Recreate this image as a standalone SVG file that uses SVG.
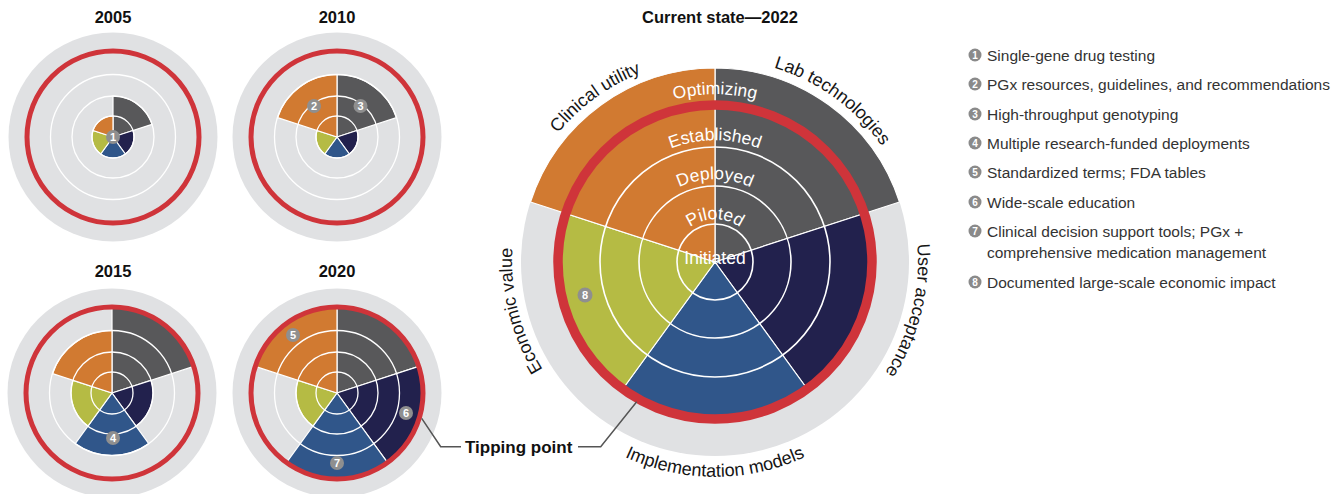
<svg xmlns="http://www.w3.org/2000/svg" xmlns:xlink="http://www.w3.org/1999/xlink" width="1343" height="494" viewBox="0 0 1343 494">
  <style>
    .bg { fill: #e0e1e3; }
    .lab { fill: #58585a; }
    .usr { fill: #22214d; }
    .imp { fill: #30568a; }
    .eco { fill: #b5bb44; }
    .cli { fill: #d17a31; }
    .wedge path { stroke: #ffffff; stroke-width: 1.2; stroke-linejoin: round; }
    .ring { fill: none; stroke: #ffffff; }
    .ring-s { stroke-width: 1.3; }
    .ring-b { stroke-width: 1.6; }
    .red { fill: none; stroke: #cf343a; }
    .title { font-family: "Liberation Sans", Arial, sans-serif; font-weight: bold; font-size: 16.5px; fill: #111111; text-anchor: middle; }
    .axis { font-family: "Liberation Sans", Arial, sans-serif; font-size: 18px; fill: #151515; }
    .level { font-family: "Liberation Sans", Arial, sans-serif; font-size: 17.5px; fill: #ffffff; }
    .badge { fill: #8f8f8f; }
    .badge-n { font-family: "Liberation Sans", Arial, sans-serif; font-weight: bold; font-size: 11px; fill: #ffffff; text-anchor: middle; }
    .leg { font-family: "Liberation Sans", Arial, sans-serif; font-size: 15.5px; fill: #333333; }
    .leg-b { fill: #8a8a8a; }
    .leg-n { font-family: "Liberation Sans", Arial, sans-serif; font-weight: bold; font-size: 10px; fill: #ffffff; text-anchor: middle; }
    .leader { fill: none; stroke: #555555; stroke-width: 1.5; }
    .tip { font-family: "Liberation Sans", Arial, sans-serif; font-weight: bold; font-size: 17px; fill: #111111; }
  </style>
  <defs>
    <!-- arcs for the axis names (clockwise, text sits outside) -->
    <path id="arc-cli" d="M532.5,351.0 A203,203 0 0,1 856.0,116.0"/>
    <path id="arc-lab" d="M574.0,116.0 A203,203 0 0,1 897.5,351.0"/>
    <path id="arc-usr" d="M797.6,76.6 A203,203 0 0,1 700.8,464.5"/>
    <path id="arc-eco" d="M729.2,464.5 A203,203 0 0,1 632.4,76.6"/>
    <!-- counter-clockwise arc along the bottom -->
    <path id="arc-imp" d="M503.3,299.3 A215,215 0 0,0 926.7,299.3"/>
    <!-- arcs for the maturity level names -->
    <path id="arc-opt" d="M549.6,232.8 A168,168 0 0,1 880.4,232.8"/>
    <path id="arc-est" d="M594.9,240.8 A122,122 0 0,1 835.1,240.8"/>
    <path id="arc-dep" d="M633.3,247.6 A83,83 0 0,1 796.7,247.6"/>
    <path id="arc-pil" d="M672.7,254.5 A43,43 0 0,1 757.3,254.5"/>
  </defs>

  <!-- 2005 -->
  <g id="chart-2005">
    <text class="title" x="113" y="23">2005</text>
    <g transform="translate(113,137)">
      <circle class="bg" r="104.5"/>
      <g class="wedge">
        <path class="lab" d="M0,0 L0,-41 A41,41 0 0 1 38.99,-12.67 Z"/>
        <path class="usr" d="M0,0 L19.97,-6.49 A21,21 0 0 1 12.34,16.99 Z"/>
        <path class="imp" d="M0,0 L12.34,16.99 A21,21 0 0 1 -12.34,16.99 Z"/>
        <path class="eco" d="M0,0 L-12.34,16.99 A21,21 0 0 1 -19.97,-6.49 Z"/>
        <path class="cli" d="M0,0 L-19.97,-6.49 A21,21 0 0 1 0,-21 Z"/>
      </g>
      <circle class="ring ring-s" r="21"/>
      <circle class="ring ring-s" r="41"/>
      <circle class="ring ring-s" r="62.5"/>
      <circle class="red" r="86" stroke-width="5"/>
      <circle class="badge" r="7"/>
      <text class="badge-n" y="4">1</text>
    </g>
  </g>

  <!-- 2010 -->
  <g id="chart-2010">
    <text class="title" x="337" y="23">2010</text>
    <g transform="translate(337,137)">
      <circle class="bg" r="104.5"/>
      <g class="wedge">
        <path class="lab" d="M0,0 L0,-62.5 A62.5,62.5 0 0 1 59.44,-19.31 Z"/>
        <path class="usr" d="M0,0 L19.97,-6.49 A21,21 0 0 1 12.34,16.99 Z"/>
        <path class="imp" d="M0,0 L12.34,16.99 A21,21 0 0 1 -12.34,16.99 Z"/>
        <path class="eco" d="M0,0 L-12.34,16.99 A21,21 0 0 1 -19.97,-6.49 Z"/>
        <path class="cli" d="M0,0 L-59.44,-19.31 A62.5,62.5 0 0 1 0,-62.5 Z"/>
      </g>
      <circle class="ring ring-s" r="21"/>
      <circle class="ring ring-s" r="41"/>
      <circle class="ring ring-s" r="62.5"/>
      <circle class="red" r="86" stroke-width="5"/>
      <circle class="badge" cx="-23" cy="-31" r="7"/>
      <text class="badge-n" x="-23" y="-27">2</text>
      <circle class="badge" cx="23.5" cy="-31" r="7"/>
      <text class="badge-n" x="23.5" y="-27">3</text>
    </g>
  </g>

  <!-- 2015 -->
  <g id="chart-2015">
    <text class="title" x="113" y="277">2015</text>
    <g transform="translate(112,393)">
      <circle class="bg" r="104.5"/>
      <g class="wedge">
        <path class="lab" d="M0,0 L0,-86 A86,86 0 0 1 81.79,-26.58 Z"/>
        <path class="usr" d="M0,0 L38.99,-12.67 A41,41 0 0 1 24.10,33.17 Z"/>
        <path class="imp" d="M0,0 L36.74,50.56 A62.5,62.5 0 0 1 -36.74,50.56 Z"/>
        <path class="eco" d="M0,0 L-24.10,33.17 A41,41 0 0 1 -38.99,-12.67 Z"/>
        <path class="cli" d="M0,0 L-59.44,-19.31 A62.5,62.5 0 0 1 0,-62.5 Z"/>
      </g>
      <circle class="ring ring-s" r="21"/>
      <circle class="ring ring-s" r="41"/>
      <circle class="ring ring-s" r="62.5"/>
      <circle class="red" r="86" stroke-width="5"/>
      <circle class="badge" cx="1" cy="45" r="7"/>
      <text class="badge-n" x="1" y="49">4</text>
    </g>
  </g>

  <!-- 2020 -->
  <g id="chart-2020">
    <text class="title" x="337" y="277">2020</text>
    <g transform="translate(337,393)">
      <circle class="bg" r="104.5"/>
      <g class="wedge">
        <path class="lab" d="M0,0 L0,-86 A86,86 0 0 1 81.79,-26.58 Z"/>
        <path class="usr" d="M0,0 L81.79,-26.58 A86,86 0 0 1 50.55,69.58 Z"/>
        <path class="imp" d="M0,0 L50.55,69.58 A86,86 0 0 1 -50.55,69.58 Z"/>
        <path class="eco" d="M0,0 L-24.10,33.17 A41,41 0 0 1 -38.99,-12.67 Z"/>
        <path class="cli" d="M0,0 L-81.79,-26.58 A86,86 0 0 1 0,-86 Z"/>
      </g>
      <circle class="ring ring-s" r="21"/>
      <circle class="ring ring-s" r="41"/>
      <circle class="ring ring-s" r="62.5"/>
      <circle class="red" r="86" stroke-width="5"/>
      <circle class="badge" cx="-44" cy="-58" r="7"/>
      <text class="badge-n" x="-44" y="-54">5</text>
      <circle class="badge" cx="69" cy="20" r="7"/>
      <text class="badge-n" x="69" y="24">6</text>
      <circle class="badge" cx="0" cy="70" r="7"/>
      <text class="badge-n" x="0" y="74">7</text>
    </g>
  </g>

  <!-- current state 2022 -->
  <g id="chart-2022">
    <text class="title" x="720" y="23" font-size="17">Current state—2022</text>
    <g transform="translate(715,262)">
      <circle class="bg" r="194"/>
      <g class="wedge">
        <path class="lab" d="M0,0 L0,-194 A194,194 0 0 1 184.51,-59.95 Z"/>
        <path class="usr" d="M0,0 L149.32,-48.52 A157,157 0 0 1 92.28,127.02 Z"/>
        <path class="imp" d="M0,0 L92.28,127.02 A157,157 0 0 1 -92.28,127.02 Z"/>
        <path class="eco" d="M0,0 L-92.28,127.02 A157,157 0 0 1 -149.32,-48.52 Z"/>
        <path class="cli" d="M0,0 L-184.51,-59.95 A194,194 0 0 1 0,-194 Z"/>
      </g>
      <circle class="ring ring-b" r="38"/>
      <circle class="ring ring-b" r="76"/>
      <circle class="ring ring-b" r="115"/>
      <circle class="red" r="157" stroke-width="9.5"/>
      <circle class="badge" cx="-130" cy="33" r="7.5"/>
      <text class="badge-n" x="-130" y="37">8</text>
    </g>
    <!-- maturity levels -->
    <text class="level" text-anchor="middle"><textPath href="#arc-opt" xlink:href="#arc-opt" startOffset="50%">Optimizing</textPath></text>
    <text class="level" text-anchor="middle"><textPath href="#arc-est" xlink:href="#arc-est" startOffset="50%">Established</textPath></text>
    <text class="level" text-anchor="middle"><textPath href="#arc-dep" xlink:href="#arc-dep" startOffset="50%">Deployed</textPath></text>
    <text class="level" text-anchor="middle"><textPath href="#arc-pil" xlink:href="#arc-pil" startOffset="50%">Piloted</textPath></text>
    <text class="level" x="715" y="264" text-anchor="middle" font-size="18">Initiated</text>
    <!-- axis names -->
    <text class="axis" text-anchor="middle"><textPath href="#arc-cli" xlink:href="#arc-cli" startOffset="50%">Clinical utility</textPath></text>
    <text class="axis" text-anchor="middle"><textPath href="#arc-lab" xlink:href="#arc-lab" startOffset="50%">Lab technologies</textPath></text>
    <text class="axis" text-anchor="middle"><textPath href="#arc-usr" xlink:href="#arc-usr" startOffset="50%">User acceptance</textPath></text>
    <text class="axis" text-anchor="middle"><textPath href="#arc-eco" xlink:href="#arc-eco" startOffset="50%">Economic value</textPath></text>
    <text class="axis" text-anchor="middle"><textPath href="#arc-imp" xlink:href="#arc-imp" startOffset="50%">Implementation models</textPath></text>
  </g>

  <!-- tipping point callout -->
  <g id="connectors">
    <polyline class="leader" points="421.7,418.3 440.7,446.7 461,446.7"/>
    <polyline class="leader" points="578,446.7 600.7,446.7 636.7,401.7"/>
  </g>
  <g id="tipping-point">
    <text class="tip" x="465" y="453">Tipping point</text>
  </g>

  <!-- legend -->
  <g id="legend">
    <circle class="leg-b" cx="975" cy="55" r="6.5"/><text class="leg-n" x="975" y="58.5">1</text>
    <text class="leg" x="987" y="60.5">Single-gene drug testing</text>
    <circle class="leg-b" cx="975" cy="84" r="6.5"/><text class="leg-n" x="975" y="87.5">2</text>
    <text class="leg" x="987" y="89.5">PGx resources, guidelines, and recommendations</text>
    <circle class="leg-b" cx="975" cy="114" r="6.5"/><text class="leg-n" x="975" y="117.5">3</text>
    <text class="leg" x="987" y="119.5">High-throughput genotyping</text>
    <circle class="leg-b" cx="975" cy="143" r="6.5"/><text class="leg-n" x="975" y="146.5">4</text>
    <text class="leg" x="987" y="148.5">Multiple research-funded deployments</text>
    <circle class="leg-b" cx="975" cy="172" r="6.5"/><text class="leg-n" x="975" y="175.5">5</text>
    <text class="leg" x="987" y="177.5">Standardized terms; FDA tables</text>
    <circle class="leg-b" cx="975" cy="202" r="6.5"/><text class="leg-n" x="975" y="205.5">6</text>
    <text class="leg" x="987" y="207.5">Wide-scale education</text>
    <circle class="leg-b" cx="975" cy="231" r="6.5"/><text class="leg-n" x="975" y="234.5">7</text>
    <text class="leg" x="987" y="236.5">Clinical decision support tools; PGx +</text>
    <text class="leg" x="987" y="257.5">comprehensive medication management</text>
    <circle class="leg-b" cx="975" cy="282" r="6.5"/><text class="leg-n" x="975" y="285.5">8</text>
    <text class="leg" x="987" y="287.5">Documented large-scale economic impact</text>
  </g>
</svg>
